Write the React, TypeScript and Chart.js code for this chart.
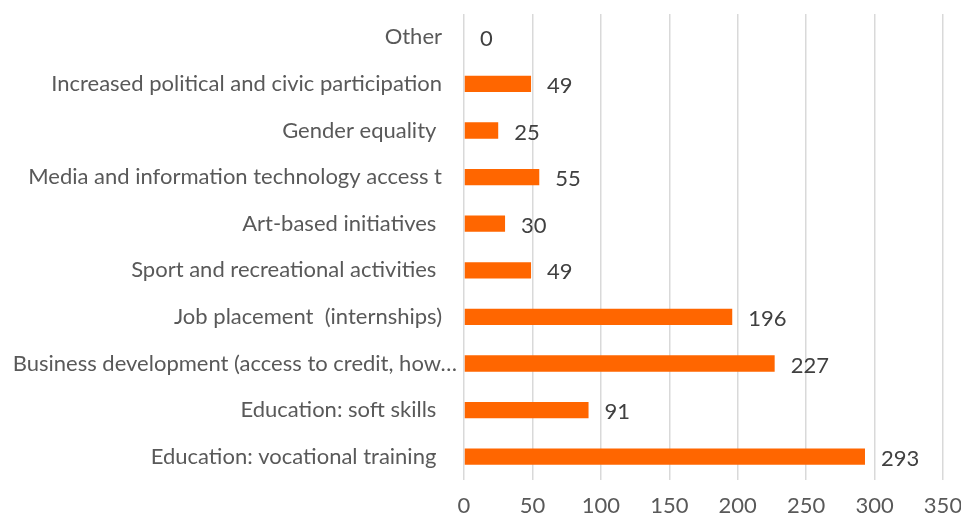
import React, { useEffect, useRef } from "react";
import { Chart, registerables } from "chart.js";

Chart.register(...registerables);

const categories = [
  "Other",
  "Increased political and civic participation",
  "Gender equality ",
  "Media and information technology access t",
  "Art-based initiatives ",
  "Sport and recreational activities ",
  "Job placement  (internships)",
  "Business development (access to credit, how…",
  "Education: soft skills ",
  "Education: vocational training ",
];
const values = [0, 49, 25, 55, 30, 49, 196, 227, 91, 293];
const xTicks = [0, 50, 100, 150, 200, 250, 300, 350];

const FONT = "Lato, 'Open Sans', sans-serif";
const SIZE = 22;

const valueLabels = {
  id: "valueLabels",
  afterDatasetsDraw(chart: any) {
    const ctx = chart.ctx;
    const meta = chart.getDatasetMeta(0);
    ctx.save();
    ctx.font = `${SIZE}px ${FONT}`;
    ctx.fillStyle = "#404040";
    ctx.textAlign = "left";
    ctx.textBaseline = "middle";
    meta.data.forEach((bar: any, i: number) => {
      ctx.fillText(String(values[i]), bar.x + 16, bar.y + 2);
    });
    ctx.restore();
  },
};

const categoryLabels = {
  id: "categoryLabels",
  afterDraw(chart: any) {
    const ctx = chart.ctx;
    const y = chart.scales.y;
    const left = chart.chartArea.left;
    ctx.save();
    ctx.font = `${SIZE}px ${FONT}`;
    ctx.fillStyle = "#595959";
    ctx.textAlign = "right";
    ctx.textBaseline = "middle";
    categories.forEach((c, i) => {
      const overflow = ctx.measureText(c).width > left - 22;
      const right = overflow ? left - 7 : left - 22;
      ctx.fillText(c, right, y.getPixelForTick(i));
    });
    ctx.restore();
  },
};

export default function App() {
  const ref = useRef<HTMLCanvasElement>(null);
  useEffect(() => {
    document.body.style.margin = "0";
    const chart = new Chart(ref.current!, {
      type: "bar",
      data: {
        labels: categories,
        datasets: [
          {
            data: values,
            backgroundColor: "#FF6600",
            borderWidth: 0,
            barPercentage: 0.35,
            categoryPercentage: 1,
          },
        ],
      },
      options: {
        indexAxis: "y",
        animation: false,
        responsive: false,
        layout: { padding: { top: 14, right: 18, left: 0, bottom: 0 } },
        plugins: { legend: { display: false }, tooltip: { enabled: false } },
        scales: {
          x: {
            min: 0,
            max: 350,
            afterBuildTicks: (s: any) => {
              s.ticks = xTicks.map((v) => ({ value: v }));
            },
            grid: { color: "#d9d9d9", lineWidth: 1.5, drawTicks: false },
            border: { display: false },
            ticks: {
              color: "#595959",
              font: { family: FONT, size: SIZE },
              padding: 13,
            },
            afterFit: (s: any) => {
              s.height = 41;
              s.paddingLeft = 0;
              s.paddingRight = 0;
            },
          },
          y: {
            grid: { display: false, drawTicks: false },
            border: { display: false },
            ticks: {
              display: false,
              autoSkip: false,
            },
            afterFit: (s: any) => {
              s.width = 464;
              s.paddingTop = 0;
              s.paddingBottom = 0;
            },
          },
        },
      },
      plugins: [valueLabels, categoryLabels],
    });
    return () => chart.destroy();
  }, []);
  return (
    <div style={{ width: 961, height: 521 }}>
      <canvas ref={ref} width={961} height={521} />
    </div>
  );
}
